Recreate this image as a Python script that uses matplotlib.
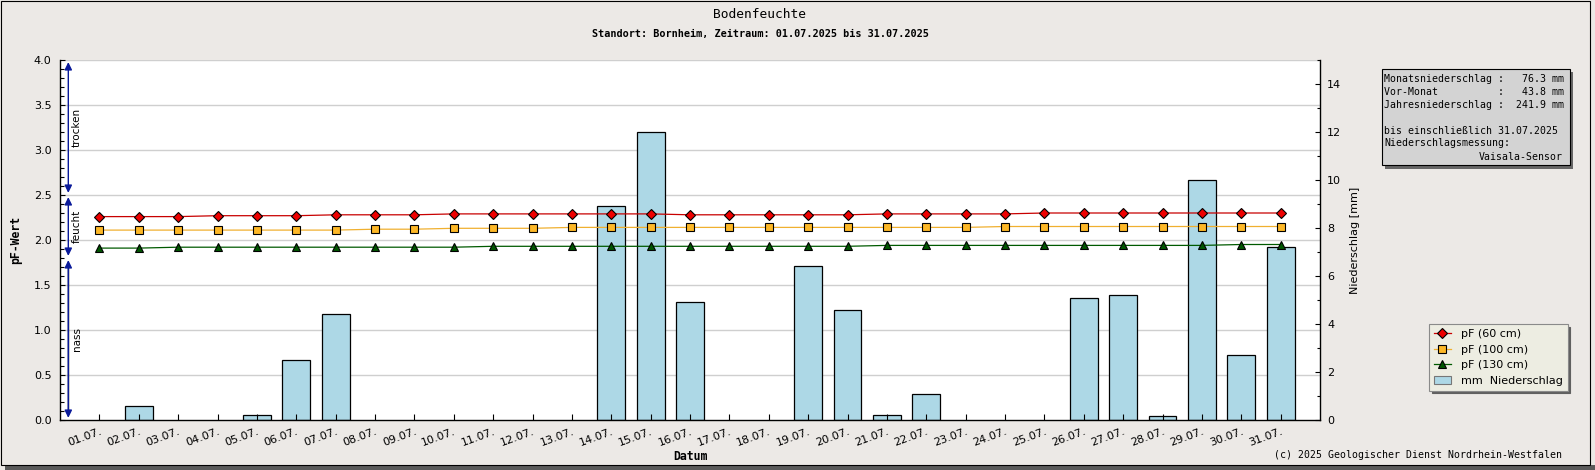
import numpy as np
import matplotlib
matplotlib.use("Agg")
import matplotlib.pyplot as plt
from matplotlib.patches import Rectangle, Patch
from matplotlib.lines import Line2D
from matplotlib.ticker import MultipleLocator

# ── Data ────────────────────────────────────────────────────────────────────
days = list(range(1, 32))
day_labels = [f"{d:02d}.07." for d in days]

pf_60 = [2.26, 2.26, 2.26, 2.27, 2.27, 2.27, 2.28, 2.28, 2.28, 2.29,
         2.29, 2.29, 2.29, 2.29, 2.29, 2.28, 2.28, 2.28, 2.28, 2.28,
         2.29, 2.29, 2.29, 2.29, 2.30, 2.30, 2.30, 2.30, 2.30, 2.30, 2.30]
pf_100 = [2.11, 2.11, 2.11, 2.11, 2.11, 2.11, 2.11, 2.12, 2.12, 2.13,
          2.13, 2.13, 2.14, 2.14, 2.14, 2.14, 2.14, 2.14, 2.14, 2.14,
          2.14, 2.14, 2.14, 2.15, 2.15, 2.15, 2.15, 2.15, 2.15, 2.15, 2.15]
pf_130 = [1.91, 1.91, 1.92, 1.92, 1.92, 1.92, 1.92, 1.92, 1.92, 1.92,
          1.93, 1.93, 1.93, 1.93, 1.93, 1.93, 1.93, 1.93, 1.93, 1.93,
          1.94, 1.94, 1.94, 1.94, 1.94, 1.94, 1.94, 1.94, 1.94, 1.95, 1.95]
rain_mm = [0, 0.6, 0, 0, 0.2, 2.5, 4.4, 0, 0, 0,
           0, 0, 0, 8.9, 12.0, 4.9, 0, 0, 6.4, 4.6,
           0.2, 1.1, 0, 0, 0, 5.1, 5.2, 0.15, 10.0, 2.7, 7.2]

# soil moisture zones drawn as arrows on the left edge
zone_names = ["trocken", "feucht", "nass"]
zone_low = [2.5, 1.8, 0.0]
zone_high = [4.0, 2.5, 1.8]

month_sum = 76.3
prev_month_sum = 43.8
year_sum = 241.9
until_date = "31.07.2025"

# ── Layout helpers (pixel -> figure fraction) ──────────────────────────────
W, H = 1595, 470
BG = "#ECE9E6"
MONO = "DejaVu Sans Mono"


def fx(px):
    return px / W


def fy(py):
    return 1 - py / H


fig = plt.figure(figsize=(W / 100, H / 100), dpi=100, facecolor=BG)

# frame + drop shadow of the whole image
fig.patches.append(Rectangle((fx(5), 0), fx(1590), fy(465), transform=fig.transFigure,
                             facecolor="#5a5a5a", edgecolor="none", zorder=-3))
fig.patches.append(Rectangle((fx(0.5), fy(464.5)), fx(1589), 464 / H, transform=fig.transFigure,
                             facecolor=BG, edgecolor="black", linewidth=0.8, zorder=-2))

ax = fig.add_axes([fx(60), fy(420), 1260 / W, 360 / H])
axr = ax.twinx()
ax.set_zorder(axr.get_zorder() + 1)
ax.patch.set_visible(False)
axr.patch.set_visible(True)
axr.patch.set_facecolor("white")

ax.set_xlim(0, 32)
ax.set_ylim(0, 4.0)
axr.set_ylim(0, 15)

# ── Grid (behind bars, in pF units) ─────────────────────────────────────────
for v in np.arange(0.5, 4.01, 0.5):
    axr.add_line(Line2D([0, 1], [v, v], transform=ax.get_yaxis_transform(),
                        color="#cfcfcf", linewidth=1.0, zorder=0))

# ── Precipitation bars ─────────────────────────────────────────────────────
bar_days = [d for d, r in zip(days, rain_mm) if r > 0]
bar_vals = [r for r in rain_mm if r > 0]
axr.bar(bar_days, bar_vals, width=0.71, color="#ADD8E6", edgecolor="black",
        linewidth=0.9, zorder=2)

# ── pF lines ────────────────────────────────────────────────────────────────
line_kw = dict(markeredgecolor="black", markeredgewidth=0.8, linewidth=0.9)
l60, = ax.plot(days, pf_60, color="#C80000", marker="D", markersize=5.4,
               markerfacecolor="#EE0000", label="pF (60 cm)", **line_kw)
l100, = ax.plot(days, pf_100, color="#F0B030", marker="s", markersize=5.4,
                markerfacecolor="#FDB827", label="pF (100 cm)", **line_kw)
l130, = ax.plot(days, pf_130, color="#005A00", marker="^", markersize=6.2,
                markerfacecolor="#005500", label="pF (130 cm)", **line_kw)

# ── Zone arrows ─────────────────────────────────────────────────────────────
trans = ax.get_yaxis_transform()
arrow_x = 8.3 / 1260
text_x = 16.8 / 1260
for name, lo, hi in zip(zone_names, zone_low, zone_high):
    ax.annotate("", xy=(arrow_x, hi), xytext=(arrow_x, lo), xycoords=trans,
                textcoords=trans,
                arrowprops=dict(arrowstyle="<|-|>,head_length=0.45,head_width=0.22",
                                color="#0A1A9A", linewidth=1.0, shrinkA=1.5, shrinkB=1.5))
    if name == "nass":
        ax.plot([arrow_x, arrow_x], [lo + 0.08, hi - 0.1], transform=trans,
                color="black", linewidth=1.0)
    ax.text(text_x, (lo + hi) / 2, name, transform=trans, rotation=90,
            ha="center", va="center", fontsize=7.5)

# ── Axes styling ───────────────────────────────────────────────────────────
for side in ["top", "right"]:
    ax.spines[side].set_visible(False)
for side in ["top", "left", "bottom"]:
    axr.spines[side].set_visible(False)
for sp in [ax.spines["left"], ax.spines["bottom"], axr.spines["right"]]:
    sp.set_linewidth(1.0)

ax.set_xticks(days)
ax.set_xticklabels(day_labels, rotation=20, ha="right", va="top",
                   rotation_mode="anchor", fontsize=8)
ax.tick_params(axis="x", direction="in", length=4, width=0.8, pad=4.5)

ax.yaxis.set_major_locator(MultipleLocator(0.5))
ax.yaxis.set_minor_locator(MultipleLocator(0.1))
ax.yaxis.set_major_formatter(plt.FormatStrFormatter("%.1f"))
ax.tick_params(axis="y", which="major", direction="in", length=3.6, width=0.8,
               pad=6, labelsize=8)
ax.tick_params(axis="y", which="minor", direction="in", length=2.6, width=0.8)

axr.yaxis.set_major_locator(MultipleLocator(2))
axr.yaxis.set_minor_locator(MultipleLocator(1))
axr.tick_params(axis="y", which="major", direction="in", length=3.6, width=0.8,
                pad=5, labelsize=8)
axr.tick_params(axis="y", which="minor", direction="in", length=2.2, width=0.8)

# ── Texts ──────────────────────────────────────────────────────────────────
fig.text(fx(760), fy(14.5), "Bodenfeuchte", ha="center", va="center",
         fontsize=9.3, family=MONO)
fig.text(fx(760), fy(33.5), "Standort: Bornheim, Zeitraum: 01.07.2025 bis 31.07.2025",
         ha="center", va="center", fontsize=7.3, family=MONO, fontweight="bold")
fig.text(fx(15.5), fy(240), "pF-Wert", rotation=90, ha="center", va="center",
         fontsize=8.3, family=MONO, fontweight="bold")
fig.text(fx(1355), fy(240), "Niederschlag [mm]", rotation=90, ha="center",
         va="center", fontsize=8)
fig.text(fx(690), fy(456.5), "Datum", ha="center", va="center",
         fontsize=8.3, family=MONO, fontweight="bold")
fig.text(fx(1562), fy(455), "(c) 2025 Geologischer Dienst Nordrhein-Westfalen",
         ha="right", va="center", fontsize=7.1, family=MONO)

# ── Info box ────────────────────────────────────────────────────────────────
bx0, by0, bx1, by1 = 1382, 69, 1570, 165.5
fig.patches.append(Rectangle((fx(bx0 + 3), fy(by1 + 3)), (bx1 - bx0) / W, (by1 - by0) / H,
                             transform=fig.transFigure, facecolor="#666666",
                             edgecolor="none", zorder=5))
fig.patches.append(Rectangle((fx(bx0), fy(by1)), (bx1 - bx0) / W, (by1 - by0) / H,
                             transform=fig.transFigure, facecolor="#D3D3D3",
                             edgecolor="black", linewidth=0.8, zorder=6))
info_lines = [
    f"Monatsniederschlag : {month_sum:6.1f} mm",
    f"Vor-Monat          : {prev_month_sum:6.1f} mm",
    f"Jahresniederschlag : {year_sum:6.1f} mm",
    "",
    f"bis einschließlich {until_date}",
    "Niederschlagsmessung:",
]
info_y = [79.5, 92, 104.5, 117, 131, 143.5]
for txt, yy in zip(info_lines, info_y):
    fig.text(fx(1384.5), fy(yy), txt, ha="left", va="center", fontsize=7.1,
             family=MONO, zorder=7)
fig.text(fx(1563), fy(156.5), "Vaisala-Sensor", ha="right", va="center",
         fontsize=7.1, family=MONO, zorder=7)

# ── Legend ──────────────────────────────────────────────────────────────────
rain_patch = Patch(facecolor="#ADD8E6", edgecolor="#777777", linewidth=0.8)
leg = fig.legend([l60, l100, l130, rain_patch],
                 ["pF (60 cm)", "pF (100 cm)", "pF (130 cm)", "mm  Niederschlag"],
                 loc="upper left", bbox_to_anchor=(fx(1429), fy(324)),
                 bbox_transform=fig.transFigure, fontsize=8, frameon=True,
                 fancybox=False, edgecolor="#8a8a8a", facecolor="#EDEDE2",
                 framealpha=1, shadow={"color": "#606060", "alpha": 1},
                 borderaxespad=0, borderpad=0.45, handlelength=1.5,
                 handletextpad=0.9, labelspacing=0.5)
leg.get_frame().set_linewidth(0.8)

fig.savefig("out.png", dpi=100, facecolor=BG)
